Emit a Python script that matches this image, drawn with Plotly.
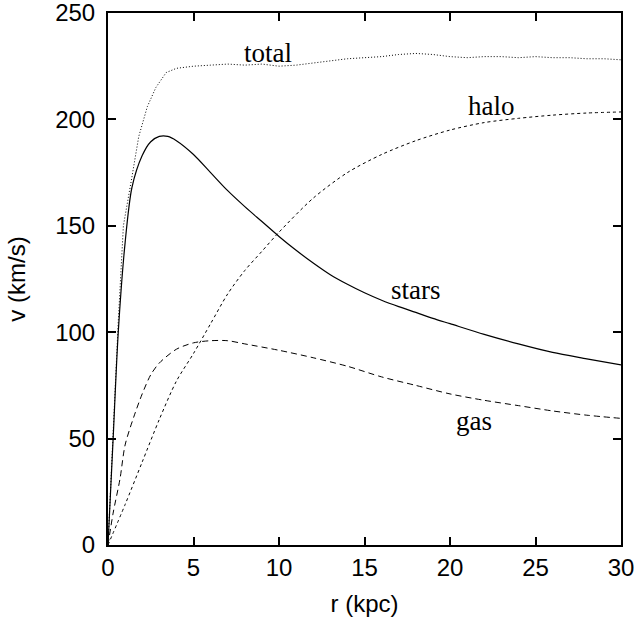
import plotly.graph_objects as go

# ---- data ----
stars_r = [0, 0.3, 0.6, 1.0, 1.4, 2.0, 2.5, 3.0, 3.5, 4.0, 5, 6, 7, 8, 9, 10, 11, 12, 13, 14, 15, 16, 17, 18,
           19, 20, 22, 24, 26, 28, 30]
stars_v = [0, 50, 100, 142, 168, 183, 189.5, 192, 192, 190, 183.5, 175, 166.5, 159, 152, 145, 138.5, 132.5, 127,
           122.5, 118.5, 115, 112, 109.3, 106.5, 104, 99, 94.5, 90.5, 87.5, 84.6]

halo_r = [0, 1, 2, 3, 4, 5, 6, 7, 8, 9, 10, 12, 14, 16, 18, 20, 22, 24, 26, 28, 30]
halo_v = [0, 19, 39, 59, 77, 90, 104, 118, 129, 138, 147, 163, 175, 183.5, 190, 195, 198.5, 200.5, 202, 203, 203.5]

gas_r = [0, 0.3, 0.7, 1.0, 1.5, 2.0, 2.5, 3.0, 4, 5, 6, 7, 8, 10, 12, 14, 16, 18, 20, 22, 24, 26, 28, 30]
gas_v = [0, 15, 31, 47, 60, 71, 80, 85.5, 92, 95, 96, 96, 94.5, 91.5, 88, 84, 79, 75, 71, 68, 65.5, 63, 61, 59.5]

total_r = [0, 0.3, 0.6, 0.9, 1.1, 1.4, 1.8, 2.3, 2.8, 3.4, 4, 5, 6, 7, 8, 9, 10, 11, 12, 13, 14, 15, 16, 17,
           18, 19, 20, 21, 22, 23, 24, 25, 26, 27, 28, 29, 30]
total_v = [0, 55, 105, 150, 160, 173, 192, 206, 215, 222, 224, 225, 225.5, 226, 225.5, 226, 225, 225.5, 226.5,
           227.5, 228.5, 229, 229.5, 230.5, 231, 230.5, 229.5, 229, 229.5, 229.5, 229, 229.5, 229, 229, 228.5, 228.5, 228]

labels = ["total", "halo", "stars", "gas"]
label_r = [9.33, 22.4, 18.0, 21.4]
label_v = [231, 206.5, 120, 58.5]

x_ticks = [0, 5, 10, 15, 20, 25, 30]
y_ticks = [0, 50, 100, 150, 200, 250]

fig = go.Figure()
fig.add_trace(go.Scatter(x=total_r, y=total_v, mode="lines", name="total",
                         line=dict(color="black", width=1, dash="1px,2px")))
fig.add_trace(go.Scatter(x=halo_r, y=halo_v, mode="lines", name="halo",
                         line=dict(color="black", width=1, dash="3px,3px", shape="spline", smoothing=0.8)))
fig.add_trace(go.Scatter(x=stars_r, y=stars_v, mode="lines", name="stars",
                         line=dict(color="black", width=1.2, shape="spline", smoothing=0.8)))
fig.add_trace(go.Scatter(x=gas_r, y=gas_v, mode="lines", name="gas",
                         line=dict(color="black", width=1, dash="6px,4px", shape="spline", smoothing=0.8)))

for t, xr, yv in zip(labels, label_r, label_v):
    fig.add_annotation(x=xr, y=yv, text=t, showarrow=False,
                       font=dict(family="Liberation Serif", size=27, color="black"),
                       xanchor="center", yanchor="middle")

axis_common = dict(showline=True, linecolor="black", linewidth=2, mirror="ticks",
                   ticks="inside", ticklen=8, tickwidth=1.5, tickcolor="black",
                   showgrid=False, zeroline=False, ticklabeloverflow="allow", automargin=False,
                   tickfont=dict(family="Liberation Sans", size=24, color="black"))

fig.update_layout(
    width=634, height=625,
    margin=dict(l=108, r=13, t=13, b=80),
    plot_bgcolor="white", paper_bgcolor="white",
    showlegend=False,
    xaxis=dict(range=[0, 30], tickvals=x_ticks, ticktext=[str(v) for v in x_ticks],
               ticklabelstandoff=0,
               title=dict(text="r (kpc)", font=dict(family="Liberation Sans", size=24, color="black"), standoff=15),
               **axis_common),
    yaxis=dict(range=[0, 250], tickvals=y_ticks, ticktext=[str(v) for v in y_ticks],
               ticklabelstandoff=6,
               title=dict(text="v (km/s)", font=dict(family="Liberation Sans", size=24, color="black"), standoff=23),
               **axis_common),
)

fig.write_html("out.html")
